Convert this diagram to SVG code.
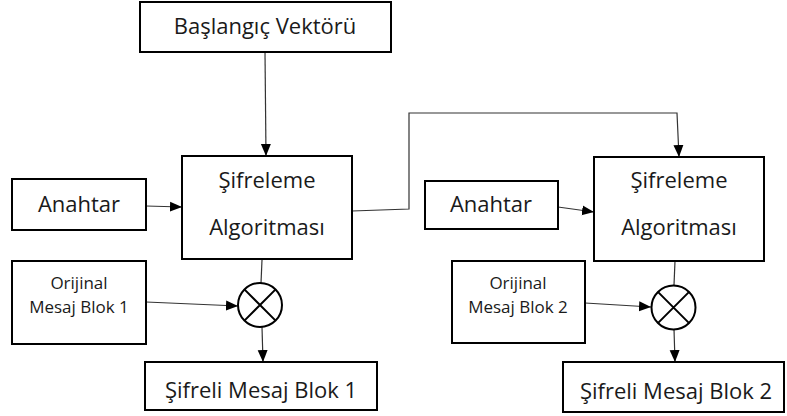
<svg xmlns="http://www.w3.org/2000/svg" width="787" height="416" viewBox="0 0 787 416">
<style>
.box{fill:#fff;stroke:#000;stroke-width:2}
.t{font-family:"Open Sans","DejaVu Sans",sans-serif;font-size:22px;fill:#1a1a1a;text-anchor:middle}
.s{font-size:17px}
.c{fill:none;stroke:#333;stroke-width:1.2}
.x{fill:#fff;stroke:#000;stroke-width:2}
</style>
<defs>
<marker id="ah" markerUnits="userSpaceOnUse" markerWidth="12" markerHeight="12" viewBox="0 0 12 12" refX="12" refY="6" orient="auto">
<path d="M0,1 L12,6 L0,11 Z" fill="#000"/>
</marker>
</defs>
<g id="connectors">
<path class="c" d="M265,52 L266,156" marker-end="url(#ah)"/>
<path class="c" d="M146,206 L182,207" marker-end="url(#ah)"/>
<path class="c" d="M352,211 L409,209 L409,113 L677,113 L679,157" marker-end="url(#ah)"/>
<path class="c" d="M558,207 L594,212" marker-end="url(#ah)"/>
<path class="c" d="M262,260 L261,283"/>
<path class="c" d="M146,302 L238,306" marker-end="url(#ah)"/>
<path class="c" d="M262,327 L263,362" marker-end="url(#ah)"/>
<path class="c" d="M675,261 L674,285"/>
<path class="c" d="M585,303 L651,307" marker-end="url(#ah)"/>
<path class="c" d="M674,329 L675,362" marker-end="url(#ah)"/>
</g>
<g id="baslangic">
<rect class="box" x="140" y="2" width="251" height="50"/>
<text class="t" x="265" y="34">Başlangıç Vektörü</text>
</g>
<g id="sifreleme1">
<rect class="box" x="182" y="156" width="170" height="103"/>
<text class="t" x="267" y="188">Şifreleme</text>
<text class="t" x="267" y="235">Algoritması</text>
</g>
<g id="anahtar1">
<rect class="box" x="12" y="179" width="134" height="51"/>
<text class="t" x="79" y="212">Anahtar</text>
</g>
<g id="orijinal1">
<rect class="box" x="12" y="261" width="134" height="83"/>
<text class="t s" x="79" y="289">Orijinal</text>
<text class="t s" x="79" y="313">Mesaj Blok 1</text>
</g>
<g id="xor1">
<circle class="x" cx="260" cy="305" r="22"/>
<path d="M244.4,289.4 L275.6,320.6 M275.6,289.4 L244.4,320.6" stroke="#000" stroke-width="2"/>
</g>
<g id="sifreli1">
<rect class="box" x="145" y="362" width="232" height="48"/>
<text class="t" x="261" y="398">Şifreli Mesaj Blok 1</text>
</g>
<g id="sifreleme2">
<rect class="box" x="594" y="157" width="170" height="104"/>
<text class="t" x="679" y="188">Şifreleme</text>
<text class="t" x="679" y="235">Algoritması</text>
</g>
<g id="anahtar2">
<rect class="box" x="425" y="181" width="133" height="48"/>
<text class="t" x="491" y="212">Anahtar</text>
</g>
<g id="orijinal2">
<rect class="box" x="452" y="261" width="133" height="82"/>
<text class="t s" x="518" y="289">Orijinal</text>
<text class="t s" x="518" y="313">Mesaj Blok 2</text>
</g>
<g id="xor2">
<circle class="x" cx="673.5" cy="307.5" r="22"/>
<path d="M657.9,291.9 L689.1,323.1 M689.1,291.9 L657.9,323.1" stroke="#000" stroke-width="2"/>
</g>
<g id="sifreli2">
<rect class="box" x="563" y="362" width="221" height="50"/>
<text class="t" x="676" y="399">Şifreli Mesaj Blok 2</text>
</g>
</svg>
